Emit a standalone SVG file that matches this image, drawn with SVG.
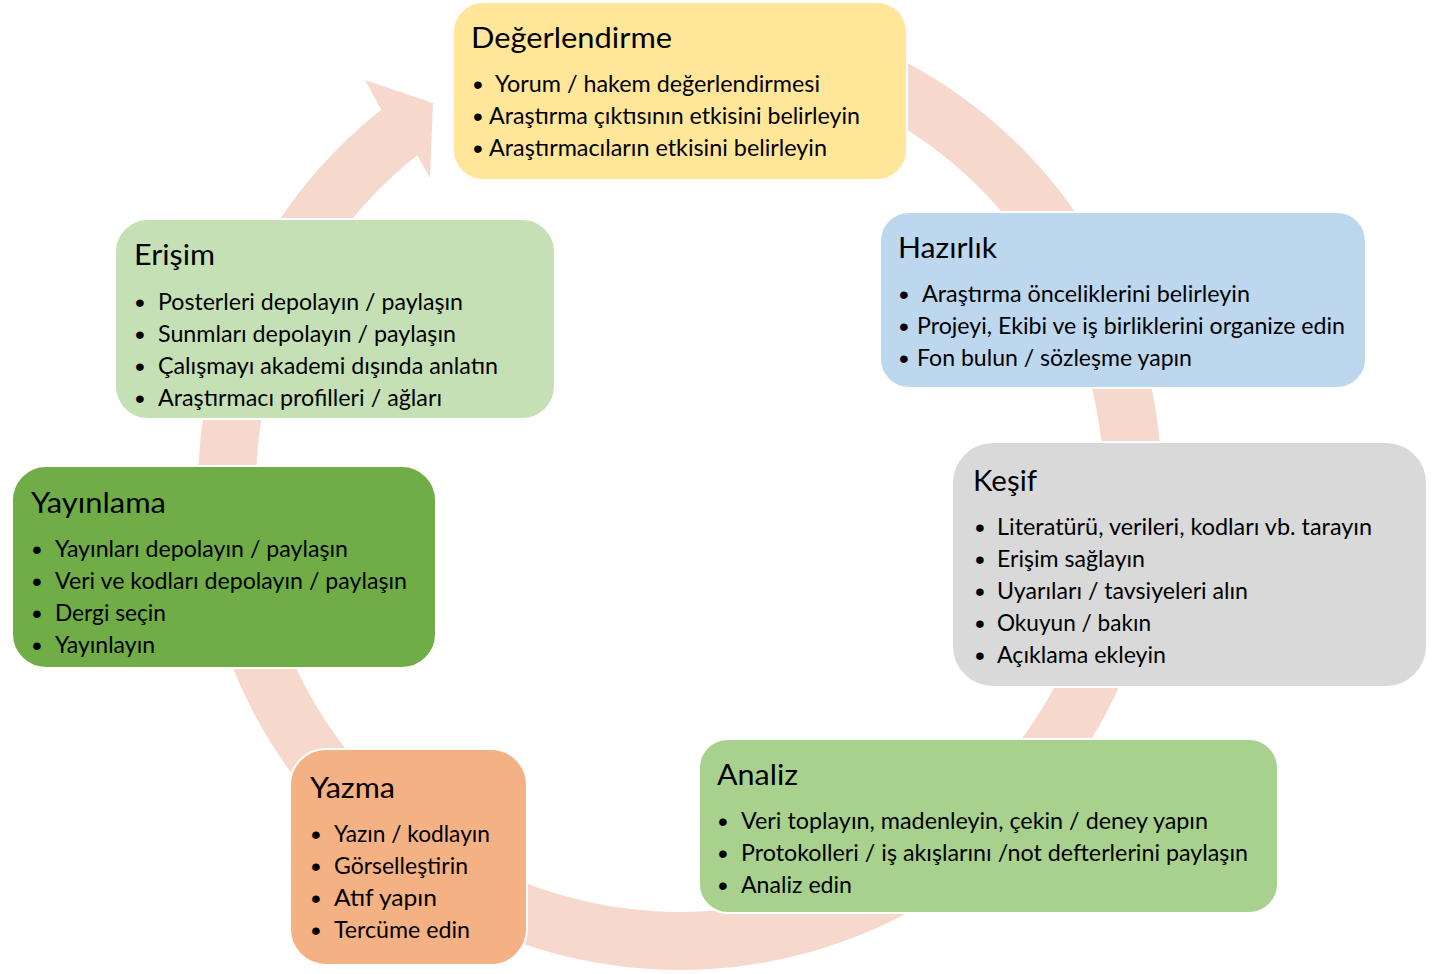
<svg xmlns="http://www.w3.org/2000/svg" width="1442" height="974" viewBox="0 0 1442 974">
<style>
.box{stroke:#FFFFFF;stroke-width:2}
.t{font-family:Lato,"Liberation Sans",sans-serif;font-size:29px;fill:#000}
.b{font-family:Lato,"Liberation Sans",sans-serif;font-size:22.5px;fill:#000}
.d{font-family:"Liberation Sans",sans-serif;font-size:28px;fill:#000;text-anchor:middle}
</style>
<rect width="1442" height="974" fill="#FFFFFF"/>
<g id="connectors">
<path d="M596.3,13.3 A482,482 0 1 1 381.3,109.7 L365,80 L433,103 L430,178 L417.2,155.2 A424,424 0 1 0 606.4,70.4 Z" fill="#F7D8CD"/>
</g>
<g id="degerlendirme">
<rect class="box" x="453" y="2" width="454" height="178" rx="30" fill="#FFE699"/>
<text class="t" x="471" y="48" textLength="201" lengthAdjust="spacingAndGlyphs">Değerlendirme</text>
<text class="d" x="478" y="94">•</text><text class="b" x="495" y="92" textLength="325" lengthAdjust="spacingAndGlyphs">Yorum / hakem değerlendirmesi</text>
<text class="d" x="478" y="126">•</text><text class="b" x="489" y="124" textLength="371" lengthAdjust="spacingAndGlyphs">Araştırma çıktısının etkisini belirleyin</text>
<text class="d" x="478" y="158">•</text><text class="b" x="489" y="156" textLength="338" lengthAdjust="spacingAndGlyphs">Araştırmacıların etkisini belirleyin</text>
</g>
<g id="hazirlik">
<rect class="box" x="880" y="212" width="486" height="176" rx="29" fill="#BDD7EE"/>
<text class="t" x="898" y="258" textLength="99" lengthAdjust="spacingAndGlyphs">Hazırlık</text>
<text class="d" x="904" y="304">•</text><text class="b" x="922" y="302" textLength="328" lengthAdjust="spacingAndGlyphs">Araştırma önceliklerini belirleyin</text>
<text class="d" x="904" y="336">•</text><text class="b" x="917" y="334" textLength="428" lengthAdjust="spacingAndGlyphs">Projeyi, Ekibi ve iş birliklerini organize edin</text>
<text class="d" x="904" y="368">•</text><text class="b" x="917" y="366" textLength="275" lengthAdjust="spacingAndGlyphs">Fon bulun / sözleşme yapın</text>
</g>
<g id="kesif">
<rect class="box" x="952" y="442" width="475" height="245" rx="41" fill="#D9D9D9"/>
<text class="t" x="973" y="491" textLength="64" lengthAdjust="spacingAndGlyphs">Keşif</text>
<text class="d" x="980" y="537">•</text><text class="b" x="997" y="535" textLength="375" lengthAdjust="spacingAndGlyphs">Literatürü, verileri, kodları vb. tarayın</text>
<text class="d" x="980" y="569">•</text><text class="b" x="997" y="567" textLength="148" lengthAdjust="spacingAndGlyphs">Erişim sağlayın</text>
<text class="d" x="980" y="601">•</text><text class="b" x="997" y="599" textLength="251" lengthAdjust="spacingAndGlyphs">Uyarıları / tavsiyeleri alın</text>
<text class="d" x="980" y="633">•</text><text class="b" x="997" y="631" textLength="154" lengthAdjust="spacingAndGlyphs">Okuyun / bakın</text>
<text class="d" x="980" y="665">•</text><text class="b" x="997" y="663" textLength="169" lengthAdjust="spacingAndGlyphs">Açıklama ekleyin</text>
</g>
<g id="analiz">
<rect class="box" x="699" y="739" width="579" height="174" rx="29" fill="#A9D18E"/>
<text class="t" x="717" y="785" textLength="81" lengthAdjust="spacingAndGlyphs">Analiz</text>
<text class="d" x="723" y="831">•</text><text class="b" x="741" y="829" textLength="467" lengthAdjust="spacingAndGlyphs">Veri toplayın, madenleyin, çekin / deney yapın</text>
<text class="d" x="723" y="863">•</text><text class="b" x="741" y="861" textLength="507" lengthAdjust="spacingAndGlyphs">Protokolleri / iş akışlarını /not defterlerini paylaşın</text>
<text class="d" x="723" y="895">•</text><text class="b" x="741" y="893" textLength="111" lengthAdjust="spacingAndGlyphs">Analiz edin</text>
</g>
<g id="yazma">
<rect class="box" x="290" y="749" width="237" height="216" rx="36" fill="#F4B183"/>
<text class="t" x="310" y="798" textLength="85" lengthAdjust="spacingAndGlyphs">Yazma</text>
<text class="d" x="316" y="844">•</text><text class="b" x="334" y="842" textLength="156" lengthAdjust="spacingAndGlyphs">Yazın / kodlayın</text>
<text class="d" x="316" y="876">•</text><text class="b" x="334" y="874" textLength="134" lengthAdjust="spacingAndGlyphs">Görselleştirin</text>
<text class="d" x="316" y="908">•</text><text class="b" x="334" y="906" textLength="103" lengthAdjust="spacingAndGlyphs">Atıf yapın</text>
<text class="d" x="316" y="940">•</text><text class="b" x="334" y="938" textLength="136" lengthAdjust="spacingAndGlyphs">Tercüme edin</text>
</g>
<g id="yayinlama">
<rect class="box" x="12" y="466" width="424" height="202" rx="34" fill="#70AD47"/>
<text class="t" x="31" y="513" textLength="135" lengthAdjust="spacingAndGlyphs">Yayınlama</text>
<text class="d" x="37" y="559">•</text><text class="b" x="55" y="557" textLength="293" lengthAdjust="spacingAndGlyphs">Yayınları depolayın / paylaşın</text>
<text class="d" x="37" y="591">•</text><text class="b" x="55" y="589" textLength="352" lengthAdjust="spacingAndGlyphs">Veri ve kodları depolayın / paylaşın</text>
<text class="d" x="37" y="623">•</text><text class="b" x="55" y="621" textLength="111" lengthAdjust="spacingAndGlyphs">Dergi seçin</text>
<text class="d" x="37" y="655">•</text><text class="b" x="55" y="653" textLength="100" lengthAdjust="spacingAndGlyphs">Yayınlayın</text>
</g>
<g id="erisim">
<rect class="box" x="115" y="219" width="440" height="200" rx="33" fill="#C5E0B4"/>
<text class="t" x="134" y="265" textLength="81" lengthAdjust="spacingAndGlyphs">Erişim</text>
<text class="d" x="140" y="312">•</text><text class="b" x="158" y="310" textLength="305" lengthAdjust="spacingAndGlyphs">Posterleri depolayın / paylaşın</text>
<text class="d" x="140" y="344">•</text><text class="b" x="158" y="342" textLength="298" lengthAdjust="spacingAndGlyphs">Sunmları depolayın / paylaşın</text>
<text class="d" x="140" y="376">•</text><text class="b" x="158" y="374" textLength="340" lengthAdjust="spacingAndGlyphs">Çalışmayı akademi dışında anlatın</text>
<text class="d" x="140" y="408">•</text><text class="b" x="158" y="406" textLength="284" lengthAdjust="spacingAndGlyphs">Araştırmacı profilleri / ağları</text>
</g>
</svg>
